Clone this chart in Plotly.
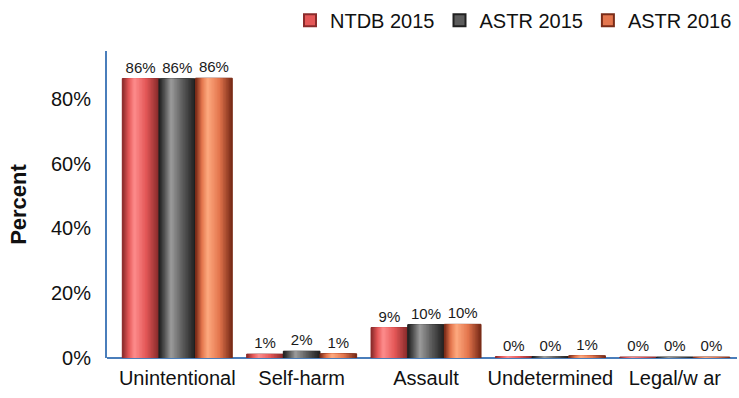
import plotly.graph_objects as go

# Injury intent distribution by data source
categories = ["Unintentional", "Self-harm", "Assault", "Undetermined", "Legal/w ar"]
series_names = ["NTDB 2015", "ASTR 2015", "ASTR 2016"]
ntdb_2015 = [86.3, 1.2, 9.4, 0.4, 0.3]
astr_2015 = [86.2, 2.1, 10.3, 0.4, 0.3]
astr_2016 = [86.4, 1.3, 10.4, 0.7, 0.3]
values = [ntdb_2015, astr_2015, astr_2016]
y_ticks = [0, 20, 40, 60, 80]
y_tick_labels = ["0%", "20%", "40%", "60%", "80%"]

# (edge, mid, highlight) colours for the cylinder shading of each series
palettes = [
    ("#8a2b2b", "#e45858", "#ff9090"),
    ("#202020", "#5c5c5c", "#a0a0a0"),
    ("#7a2c18", "#e4764e", "#ffad82"),
]

FONT = "Liberation Sans, Arial, sans-serif"
AXIS_BLUE = "#4a7ebb"


def hex_rgb(h):
    h = h.lstrip("#")
    return tuple(int(h[i:i + 2], 16) for i in (0, 2, 4))


def blend(c1, c2, t):
    a, b = hex_rgb(c1), hex_rgb(c2)
    return "rgb({},{},{})".format(*[round(x + (y - x) * t) for x, y in zip(a, b)])


def shade(pal, t):
    edge, mid, hi = pal
    if t < 0.5:
        return blend(edge, mid, t / 0.5)
    return blend(mid, hi, (t - 0.5) / 0.5)


group_width = 0.884
bar_w = group_width / 3
highlight = 0.33   # relative position of the bright band across a bar
layers = 16

fig = go.Figure()
for s, (name, vals, pal) in enumerate(zip(series_names, values, palettes)):
    base_off = -group_width / 2 + s * bar_w
    # base layer carries the legend entry and the value labels
    fig.add_trace(go.Bar(
        x=categories, y=vals, name=name,
        offset=base_off, width=bar_w,
        marker=dict(color=pal[1], line=dict(color=pal[0], width=1)),
        texttemplate="%{y:.0f}%", textposition="outside",
        textfont=dict(size=15, color="#1a1a1a", family=FONT),
        cliponaxis=False, legendgroup=name,
    ))
    # nested bands toward the highlight give a rounded look
    for k in range(layers):
        t = k / layers
        fig.add_trace(go.Bar(
            x=categories, y=vals, name=name,
            offset=base_off + bar_w * highlight * t,
            width=bar_w * (1 - t),
            marker=dict(color=shade(pal, t), line=dict(width=0)),
            showlegend=False, legendgroup=name, hoverinfo="skip",
        ))

fig.update_layout(
    width=739, height=398,
    margin=dict(l=107, r=2, t=50, b=40),
    barmode="overlay",
    plot_bgcolor="white", paper_bgcolor="white",
    font=dict(family=FONT, size=20, color="#111111"),
    showlegend=True,
    legend=dict(
        orientation="h", x=1.0, xanchor="right", y=1.16, yanchor="top",
        font=dict(size=20, family=FONT, color="#111111"),
        itemsizing="constant", traceorder="normal",
        bgcolor="rgba(0,0,0,0)",
    ),
    xaxis=dict(
        type="category", range=[-0.565, 4.5],
        showgrid=False, showline=False, ticks="", zeroline=False,
        tickfont=dict(size=20, family=FONT), ticklabelstandoff=6,
    ),
    yaxis=dict(
        range=[0, 94.8], tickmode="array", tickvals=y_ticks, ticktext=y_tick_labels,
        showgrid=False, showline=True, linecolor=AXIS_BLUE, linewidth=2,
        zeroline=True, zerolinecolor=AXIS_BLUE, zerolinewidth=2,
        ticks="", tickfont=dict(size=20, family=FONT), ticklabelstandoff=10,
        title=dict(text="<b>Percent</b>", font=dict(size=22, family=FONT), standoff=18),
    ),
)

fig.write_html("out.html")
